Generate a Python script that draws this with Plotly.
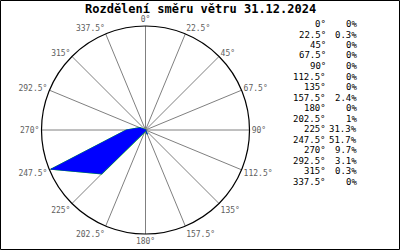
import plotly.graph_objects as go

title_text = "Rozdělení směru větru 31.12.2024"
directions = [0, 22.5, 45, 67.5, 90, 112.5, 135, 157.5, 180, 202.5, 225, 247.5, 270, 292.5, 315, 337.5]
dir_labels = ["0°", "22.5°", "45°", "67.5°", "90°", "112.5°", "135°", "157.5°",
              "180°", "202.5°", "225°", "247.5°", "270°", "292.5°", "315°", "337.5°"]
percent = [0, 0.3, 0, 0, 0, 0, 0, 2.4, 0, 1, 31.3, 51.7, 9.7, 3.1, 0.3, 0]
percent_labels = ["0%", "0.3%", "0%", "0%", "0%", "0%", "0%", "2.4%",
                  "0%", "1%", "31.3%", "51.7%", "9.7%", "3.1%", "0.3%", "0%"]

W, H = 400, 250
cx, cy, R = 145.5, 130, 104

fig = go.Figure()
fig.add_trace(go.Scatterpolar(
    r=percent + [percent[0]],
    theta=directions + [directions[0]],
    mode="lines",
    line=dict(color="#00cc00", width=1.2),
    hoverinfo="skip",
))
fig.add_trace(go.Scatterpolar(
    r=percent + [percent[0]],
    theta=directions + [directions[0]],
    mode="lines",
    fill="toself",
    fillcolor="#0000ff",
    line=dict(color="#0000ff", width=0.6),
    hoverinfo="skip",
))

mono = "DejaVu Sans Mono"
annotations = []
y0, dy = 24, 10.5
for i, (d, p) in enumerate(zip(dir_labels, percent_labels)):
    y = y0 + i * dy
    annotations.append(dict(x=327.5 / W, y=1 - y / H, xref="paper", yref="paper",
                            text=d, showarrow=False, xanchor="right", yanchor="middle",
                            font=dict(family=mono, size=9, color="black")))
    annotations.append(dict(x=359 / W, y=1 - y / H, xref="paper", yref="paper",
                            text=p, showarrow=False, xanchor="right", yanchor="middle",
                            font=dict(family=mono, size=9, color="black")))
annotations.append(dict(x=200 / W, y=1 - 9 / H, xref="paper", yref="paper",
                        text="<b>" + title_text + "</b>", showarrow=False,
                        xanchor="center", yanchor="middle",
                        font=dict(family=mono, size=12, color="black")))

fig.update_layout(
    width=W, height=H,
    margin=dict(l=0, r=0, t=0, b=0),
    paper_bgcolor="white",
    plot_bgcolor="white",
    showlegend=False,
    annotations=annotations,
    shapes=[dict(type="rect", xref="paper", yref="paper",
                 x0=0.5 / W, x1=1 - 0.5 / W, y0=0.5 / H, y1=1 - 0.5 / H,
                 line=dict(color="black", width=1))],
    polar=dict(
        domain=dict(x=[(cx - R) / W, (cx + R) / W], y=[(H - cy - R) / H, (H - cy + R) / H]),
        bgcolor="white",
        angularaxis=dict(
            rotation=90, direction="clockwise",
            tickmode="array", tickvals=directions, ticktext=dir_labels,
            showline=True, linecolor="black", linewidth=1.2,
            showgrid=True, gridcolor="#808080", gridwidth=1,
            ticks="", tickfont=dict(family=mono, size=8, color="#606060"),
        ),
        radialaxis=dict(visible=False, range=[0, 52.5], showgrid=False),
    ),
)

fig.write_html("out.html")
